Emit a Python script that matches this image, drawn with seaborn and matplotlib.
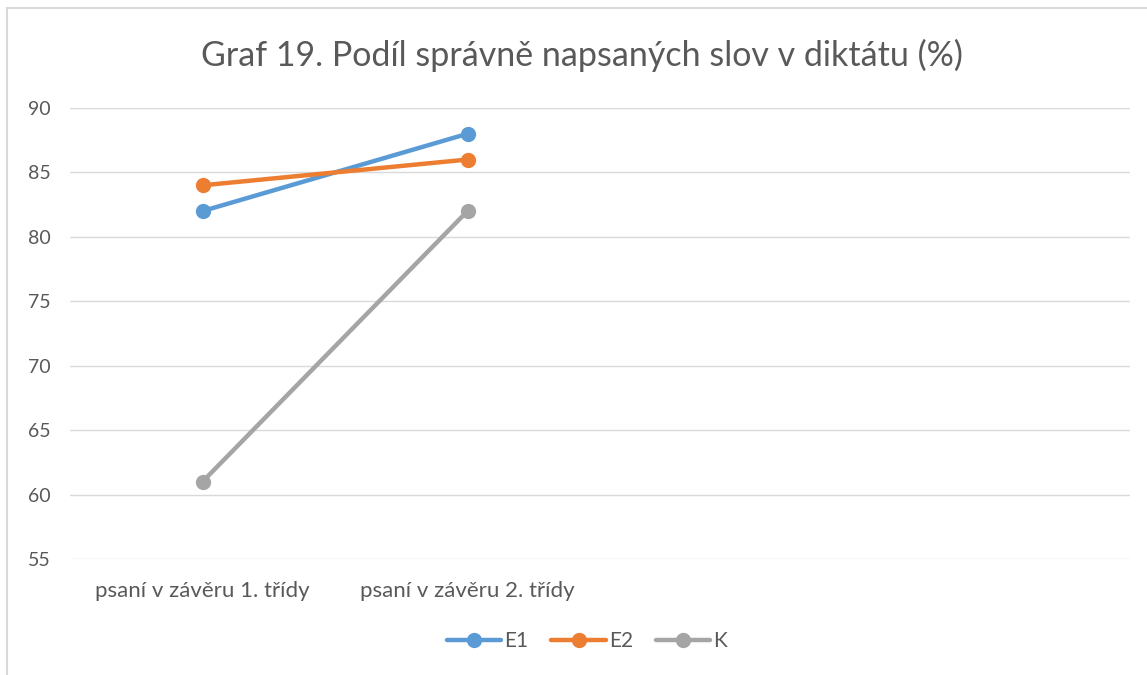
import pandas as pd
import matplotlib.pyplot as plt
import seaborn as sns
from matplotlib.patches import Rectangle

# data
categories = ["psaní v závěru 1. třídy", "psaní v závěru 2. třídy"]
e1 = [82, 88]
e2 = [84, 86]
k = [61, 82]
series_names = ["E1", "E2", "K"]
y_ticks = [55, 60, 65, 70, 75, 80, 85, 90]

colors = {"E1": "#5B9BD5", "E2": "#ED7D31", "K": "#A5A5A5"}

# long format for seaborn
rows = []
for name, vals in zip(series_names, [e1, e2, k]):
    for cat, v in zip(categories, vals):
        rows.append({"kategorie": cat, "hodnota": v, "serie": name})
df = pd.DataFrame(rows)

sns.set_style("white")
plt.rcParams["font.family"] = ["Lato", "DejaVu Sans"]

fig = plt.figure(figsize=(11.47, 6.75), dpi=100)
ax = fig.add_axes([70 / 1147, 1 - 559 / 675, 1060 / 1147, 451 / 675])

sns.lineplot(data=df, x="kategorie", y="hodnota", hue="serie", hue_order=series_names,
             palette=colors, marker="o", markersize=11, markeredgewidth=0,
             linewidth=3.2, sort=False, ax=ax)

# excel leaves room for two more empty categories
ax.set_xlim(-0.5, 3.5)
ax.set_ylim(55, 90)
ax.set_yticks(y_ticks)
ax.grid(axis="y", color="#D9D9D9", linewidth=1)
ax.grid(axis="x", visible=False)
for s in ax.spines.values():
    s.set_visible(False)
ax.tick_params(axis="both", length=0, labelcolor="#595959")
ax.tick_params(axis="y", pad=14, labelsize=14)
ax.tick_params(axis="x", pad=16, labelsize=16)
ax.set_xlabel("")
ax.set_ylabel("")

# legend at the bottom
handles, labels = ax.get_legend_handles_labels()
ax.get_legend().remove()
fig.legend(handles, labels, loc="center", bbox_to_anchor=(587 / 1147, 1 - 641 / 675),
           ncol=3, frameon=False, fontsize=15, labelcolor="#595959",
           handlelength=2.6, handletextpad=0.15, columnspacing=1.1)

fig.suptitle("Graf 19. Podíl správně napsaných slov v diktátu (%)", x=582 / 1147,
             y=1 - 55 / 675, va="center", fontsize=24.5, color="#595959")

# chart frame
fig.patches.append(Rectangle((7 / 1147, -0.02), 1.05, 1 - 8 / 675 + 0.02,
                             transform=fig.transFigure, fill=False,
                             edgecolor="#D9D9D9", linewidth=1.5))

fig.savefig("out.png", dpi=100)
